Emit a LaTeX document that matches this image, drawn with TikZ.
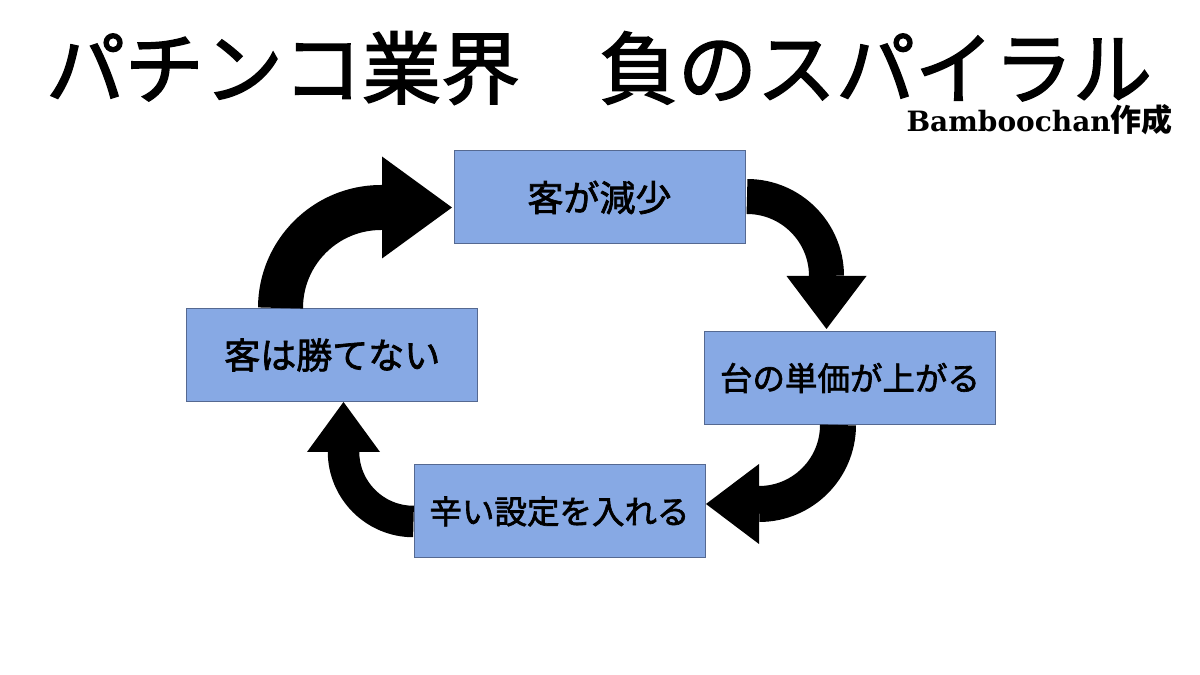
\documentclass[tikz,border=0pt]{standalone}
\usepackage{fontspec}
\newfontfamily\jp{Noto Sans CJK JP}
\newfontfamily\jpmid{Noto Sans CJK JP}[FakeBold=2]
\newfontfamily\latinserif{DejaVu Serif}
\usetikzlibrary{arrows.meta,calc}
\definecolor{boxfill}{RGB}{135,169,228}
\definecolor{boxline}{RGB}{85,105,145}
\tikzset{
  stagebox/.style={draw=boxline, line width=1pt, fill=boxfill, minimum width=291pt,
    minimum height=93pt, inner sep=0pt},
  bigtext/.style={font=\jpmid\fontsize{36}{38}\selectfont},
  smalltext/.style={font=\jpmid\fontsize{32.5}{34}\selectfont},
  spiral/.style={draw=black, line cap=butt, line join=round}
}
\begin{document}
\begin{tikzpicture}[x=1pt,y=1pt]
\fill[white] (0,0) rectangle (1200,675);
\useasboundingbox (0,0) rectangle (1200,675);

\node[font=\jpmid\fontsize{79}{81}\selectfont, inner sep=0pt] (title) at (599,607) {パチンコ業界　負のスパイラル};
\node[anchor=base east, inner sep=0pt] (credit) at (1173,543.3)
  {\latinserif\bfseries\fontsize{28}{30}\selectfont Bamboochan\jp\bfseries\fontsize{31}{33}\selectfont 作成};

\node[stagebox, bigtext] (top) at (599.5,477.5) {客が減少};
\node[stagebox, smalltext] (right) at (850,297) {台の単価が上がる};
\node[stagebox, smalltext] (bottom) at (559.5,163.5) {辛い設定を入れる};
\node[stagebox, bigtext] (left) at (332.3,320) {客は勝てない};

\draw[spiral, line width=45pt, -{Triangle[length=70pt,width=102pt,line width=0pt]}]
  ($(left.north)+(-51.8,0)$) arc[start angle=180,end angle=90,radius=100.5]
  -- ($(top.west)+(-1.5,-10)$);
\draw[spiral, line width=35pt, -{Triangle[length=53pt,width=80pt,line width=0pt]}]
  ($(top.east)+(1.5,1)$) arc[start angle=90,end angle=0,radius=79.5]
  -- ($(right.north)+(-23.5,2)$);
\draw[spiral, line width=36pt, -{Triangle[length=53pt,width=80pt,line width=0pt]}]
  ($(right.south)+(-12,0)$) arc[start angle=0,end angle=-90,radius=79]
  -- ($(bottom.east)+(0.5,7.5)$);
\draw[spiral, line width=31.5pt, -{Triangle[length=50pt,width=73pt,line width=0pt]}]
  ($(bottom.west)+(0,-10)$) arc[start angle=270,end angle=180,radius=70]
  -- ($(left.south)+(11.2,0)$);
\end{tikzpicture}
\end{document}
